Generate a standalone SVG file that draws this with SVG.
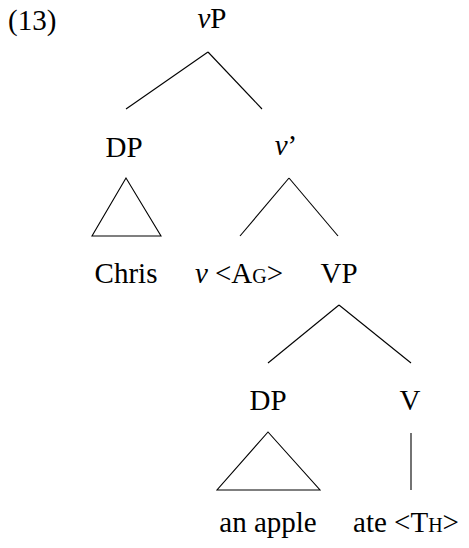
<svg xmlns="http://www.w3.org/2000/svg" width="469" height="548" viewBox="0 0 469 548">
<style>
text{font-size:29px;fill:#000;text-anchor:middle}
.i{font-style:italic}
.sc{font-variant:small-caps}
.e line,.e polygon{stroke:#000;stroke-width:1.1;fill:none}
</style>
<rect width="469" height="548" fill="#fff"/>
<g font-family="Liberation Serif, DejaVu Serif, serif">
<text x="8" y="30" style="text-anchor:start">(13)</text>
<g id="n-vP"><text x="212" y="28"><tspan class="i">v</tspan>P</text></g>
<g id="n-DP1"><text x="124" y="157">DP</text></g>
<g id="n-vbar"><text x="286" y="155"><tspan class="i">v</tspan>’</text></g>
<g id="n-Chris"><text x="126" y="283">Chris</text></g>
<g id="n-v"><text x="239" y="283"><tspan class="i">v</tspan> &lt;<tspan class="sc">Ag</tspan>&gt;</text></g>
<g id="n-VP"><text x="339" y="283">VP</text></g>
<g id="n-DP2"><text x="268" y="410">DP</text></g>
<g id="n-V"><text x="410" y="410">V</text></g>
<g id="n-apple"><text x="268" y="532">an apple</text></g>
<g id="n-ate"><text x="406" y="532">ate &lt;<tspan class="sc">Th</tspan>&gt;</text></g>
</g>
<g id="edges" class="e">
<line x1="208" y1="52" x2="126" y2="109"/>
<line x1="208" y1="52" x2="262" y2="109"/>
<polygon points="126,178 92,236 161,236"/>
<line x1="289" y1="178" x2="240" y2="236"/>
<line x1="289" y1="178" x2="338" y2="236"/>
<line x1="339" y1="305" x2="268" y2="363"/>
<line x1="339" y1="305" x2="411" y2="363"/>
<polygon points="268,432 217,490 320,490"/>
<line x1="411" y1="433" x2="411" y2="490"/>
</g>
</svg>
